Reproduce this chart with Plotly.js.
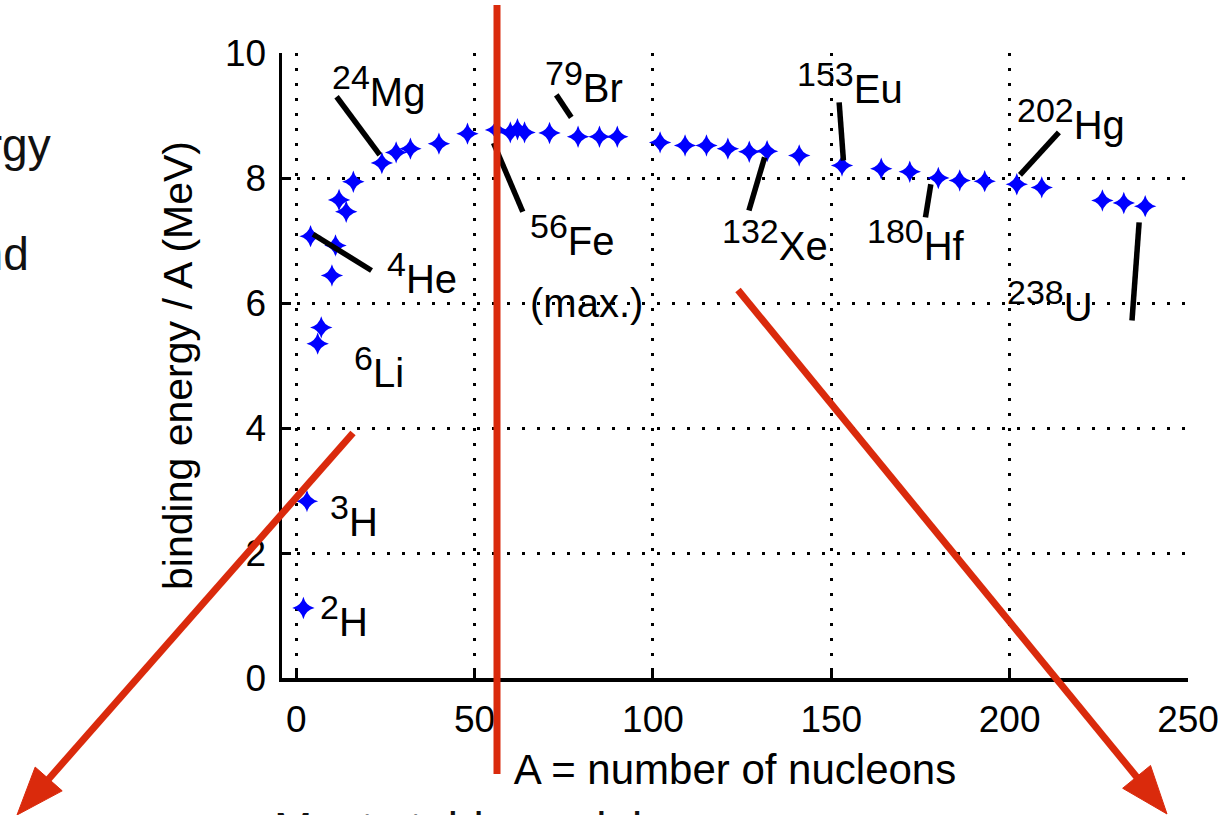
<!DOCTYPE html>
<html>
<head>
<meta charset="utf-8">
<script src="https://cdn.plot.ly/plotly-3.0.1.min.js"></script>
<style>
  html, body { margin: 0; padding: 0; background: #ffffff; }
  #chart { width: 1224px; height: 815px; }
</style>
</head>
<body>
<div id="chart"></div>
<script>
// ---------------- data ----------------
const massNumber = [2, 3, 4, 6, 7, 10, 11, 12, 14, 16, 24, 28, 32, 40, 48, 56, 60, 62, 64, 71, 79, 85, 90,
                    102, 109, 115, 121, 127, 132, 141, 153, 164, 172, 180, 186, 193, 202, 209, 226, 232, 238];
const bindingPerNucleon = [1.12, 2.83, 7.07, 5.35, 5.61, 6.44, 6.92, 7.65, 7.46, 7.94, 8.24, 8.41, 8.47, 8.55, 8.71, 8.77, 8.73, 8.78, 8.73, 8.72, 8.66, 8.66, 8.66,
                           8.57, 8.52, 8.52, 8.47, 8.42, 8.43, 8.36, 8.20, 8.15, 8.10, 8.00, 7.96, 7.95, 7.90, 7.85, 7.64, 7.60, 7.55];

const isotopeMass = ['24', '79', '153', '202', '56', '132', '180', '4', '238', '6', '3', '2'];
const isotopeSymbol = ['Mg', 'Br', 'Eu', 'Hg', 'Fe', 'Xe', 'Hf', 'He', 'U', 'Li', 'H', 'H'];

const xTicks = [0, 50, 100, 150, 200, 250];
const yTicks = [0, 2, 4, 6, 8, 10];

const xTitle = 'A = number of nucleons';
const yTitle = 'binding energy / A (MeV)';
const feNote = '(max.)';
const slideTexts = ['energy', 'and', 'Most stable nuclei'];

// ---------------- layout geometry ----------------
const PL = 282, PT = 53, PW = 906, PH = 625;
const px2x = px => (px - PL) / PW;          // pixel -> paper
const py2y = py => (PT + PH - py) / PH;

// label placement (left edge px, vertical middle px), same order as isotope arrays
const labelPos = [[330, 86], [543, 82], [795, 83], [1015, 119], [528, 235], [720, 240],
                  [865, 240], [385, 273], [1005, 301], [352, 367], [328, 516], [318, 616]];

// leader lines in data units [x0, y0, x1, y1]
const leaders = [
  [11.3, 9.30, 23.4, 8.37],
  [4.7, 7.10, 21.1, 6.52],
  [55.3, 8.56, 63.5, 7.46],
  [72.9, 9.33, 77.1, 8.97],
  [131.3, 8.33, 126.9, 7.48],
  [152.2, 9.21, 153.4, 8.28],
  [177.9, 7.90, 176.4, 7.37],
  [213.8, 8.73, 202.9, 8.05],
  [236.3, 7.29, 234.3, 5.72]
];

const RED = '#DA2A0C';
const FONT = 'Liberation Sans, Arial, Helvetica, sans-serif';

const shapes = [];
leaders.forEach(l => shapes.push({
  type: 'line', xref: 'x', yref: 'y', x0: l[0], y0: l[1], x1: l[2], y1: l[3],
  line: {color: '#000000', width: 5.5}, layer: 'above'
}));

// red overlay: vertical line and two arrows (pixel geometry)
function redLine(x0, y0, x1, y1) {
  shapes.push({type: 'line', xref: 'paper', yref: 'paper',
    x0: px2x(x0), y0: py2y(y0), x1: px2x(x1), y1: py2y(y1),
    line: {color: RED, width: 7}, layer: 'above'});
}
function redArrow(tx, ty, hx, hy, len, half) {
  const dx = hx - tx, dy = hy - ty, d = Math.hypot(dx, dy);
  const ux = dx / d, uy = dy / d, nx = -uy, ny = ux;
  const bx = hx - len * ux, by = hy - len * uy;
  redLine(tx, ty, bx + 4 * ux, by + 4 * uy);
  const p = [[bx + half * nx, by + half * ny], [hx, hy], [bx - half * nx, by - half * ny]];
  shapes.push({type: 'path', xref: 'paper', yref: 'paper',
    path: 'M' + p.map(q => px2x(q[0]) + ',' + py2y(q[1])).join('L') + 'Z',
    fillcolor: RED, line: {color: RED, width: 1}, layer: 'above'});
}
redLine(497, 5, 497, 774);
redArrow(353, 433, 17, 815, 48, 18);
redArrow(738, 290, 1167, 814, 48, 18);

const annotations = [];
isotopeMass.forEach((m, i) => annotations.push({
  xref: 'paper', yref: 'paper', x: px2x(labelPos[i][0]), y: py2y(labelPos[i][1]),
  xanchor: 'left', yanchor: 'middle', showarrow: false,
  text: '<sup><span style="font-size:34px">' + m + '</span></sup>' + isotopeSymbol[i],
  font: {family: FONT, size: 40, color: '#000000'}
}));
annotations.push({xref: 'paper', yref: 'paper', x: px2x(528), y: py2y(303),
  xanchor: 'left', yanchor: 'middle', showarrow: false, text: feNote,
  font: {family: FONT, size: 40, color: '#000000'}});
// partial slide text around the chart
annotations.push({xref: 'paper', yref: 'paper', x: px2x(53), y: py2y(145),
  xanchor: 'right', yanchor: 'middle', showarrow: false, text: slideTexts[0],
  font: {family: FONT, size: 46, color: '#111111'}});
annotations.push({xref: 'paper', yref: 'paper', x: px2x(31), y: py2y(254),
  xanchor: 'right', yanchor: 'middle', showarrow: false, text: slideTexts[1],
  font: {family: FONT, size: 46, color: '#111111'}});
annotations.push({xref: 'paper', yref: 'paper', x: px2x(272), y: py2y(829),
  xanchor: 'left', yanchor: 'middle', showarrow: false, text: slideTexts[2],
  font: {family: FONT, size: 46, color: '#111111'}});

const trace = {
  type: 'scatter', mode: 'markers', x: massNumber, y: bindingPerNucleon,
  marker: {symbol: 'star-diamond', size: 16, color: '#0000FF', line: {width: 0}},
  hoverinfo: 'x+y', cliponaxis: false
};

const axisCommon = {
  showline: true, linecolor: '#000000', linewidth: 3.5, mirror: false,
  ticks: 'inside', ticklen: 9, tickwidth: 3, tickcolor: '#000000',
  showgrid: true, gridcolor: '#000000', gridwidth: 3, griddash: '3px,12px',
  zeroline: false, tickfont: {family: FONT, size: 37, color: '#000000'},
  automargin: false, fixedrange: true
};

const layout = {
  width: 1224, height: 815,
  margin: {l: PL, r: 1224 - PL - PW, t: PT, b: 815 - PT - PH, pad: 0},
  paper_bgcolor: '#ffffff', plot_bgcolor: '#ffffff',
  showlegend: false,
  xaxis: Object.assign({}, axisCommon, {
    range: [-4, 250], tickmode: 'array', tickvals: xTicks, ticktext: xTicks.map(String),
    ticklabelstandoff: 6,
    title: {text: xTitle, font: {family: FONT, size: 42, color: '#000000'}, standoff: 16}
  }),
  yaxis: Object.assign({}, axisCommon, {
    range: [0, 10], tickmode: 'array', tickvals: yTicks, ticktext: yTicks.map(String),
    ticklabelstandoff: 5,
    title: {text: yTitle, font: {family: FONT, size: 41, color: '#000000'}, standoff: 20}
  }),
  shapes: shapes,
  annotations: annotations
};

Plotly.newPlot('chart', [trace], layout, {displayModeBar: false, staticPlot: true});
</script>
</body>
</html>
